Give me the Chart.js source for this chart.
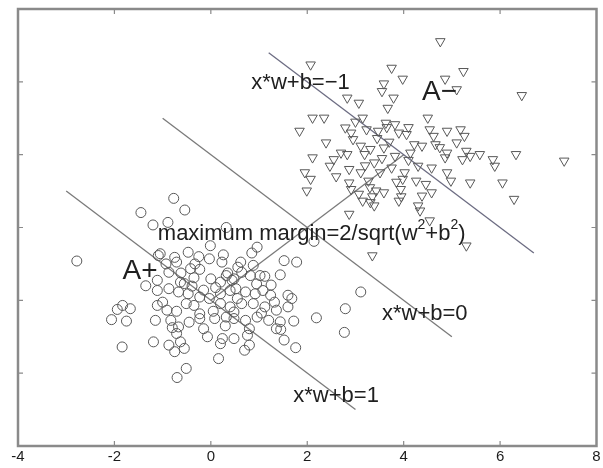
<!DOCTYPE html>
<html lang="en">
<head>
<meta charset="UTF-8">
<style>
  html, body { margin: 0; padding: 0; background: #fff; overflow: hidden; }
  #wrap { width: 603px; height: 468px; }
</style>
<title>SVM margin</title>
</head>
<body>
<div id="wrap"><canvas id="svmChart" width="603" height="468"></canvas></div>
<script src="https://cdn.jsdelivr.net/npm/chart.js"></script>
<script>
// class A+ (circles)
const plusX = [-2.78,-0.77,-1.45,-0.54,-1.20,-0.89,0.32,2.14,-0.01,0.96,-1.09,-0.75,-0.47,0.26,0.23,-0.03,-0.33,-0.23,0.56,0.88,
  1.52,1.78,-0.93,-0.71,-0.87,-0.63,-0.42,0.00,0.32,0.48,0.64,0.82,1.02,1.12,1.44,-1.11,-0.55,-0.39,0.20,0.44,
  0.52,-1.11,-0.87,-0.67,-0.47,-0.23,-0.03,0.20,0.40,0.72,0.92,1.08,1.24,1.60,1.68,3.11,-1.83,-1.67,-1.94,-1.11,
  -0.91,-0.71,-0.51,-0.35,-0.23,0.20,0.40,0.48,0.64,0.88,1.12,1.32,1.36,1.60,2.79,-2.06,-1.75,-1.15,-0.83,-0.67,
  -0.23,0.08,0.32,0.48,0.72,0.96,1.20,1.44,1.72,2.19,-0.71,-0.15,-0.07,0.24,0.48,0.80,0.76,1.36,1.52,2.77,
  -1.19,-0.87,-0.63,0.20,0.80,-1.84,1.76,-0.75,-0.55,0.16,0.70,-0.51,-0.70,
  -1.05,-0.35,0.10,0.55,0.30,-0.45,-1.00,0.95,1.25,-0.15,0.62,0.85,-0.62,-0.80,0.05,0.35,1.05,-1.35,1.45,-0.25];
const plusY = [1.08,2.80,2.41,2.48,2.07,2.14,2.00,1.62,1.50,1.46,1.23,1.18,1.32,1.25,1.05,1.14,1.00,0.85,0.91,0.96,
  1.09,1.05,1.00,1.05,0.77,0.50,0.87,0.59,0.68,0.59,0.77,0.68,0.68,0.66,0.70,0.55,0.46,0.39,0.50,0.55,
  0.32,0.27,0.32,0.23,0.18,0.09,0.05,0.18,0.27,0.23,0.18,0.27,0.14,0.14,0.05,0.23,-0.14,-0.23,-0.25,-0.14,
  -0.27,-0.30,-0.09,-0.14,-0.37,-0.09,-0.18,-0.32,-0.09,-0.09,-0.18,-0.05,-0.27,-0.18,-0.23,-0.53,-0.57,-0.55,-0.55,-0.73,
  -0.50,-0.50,-0.46,-0.50,-0.55,-0.46,-0.55,-0.59,-0.57,-0.48,-0.91,-0.78,-1.00,-1.05,-1.05,-0.78,-0.96,-0.78,-1.09,-0.88,
  -1.14,-1.23,-1.14,-1.19,-1.23,-1.28,-1.30,-1.41,-1.32,-1.60,-1.37,-1.87,-2.12,
  1.28,0.62,0.35,0.05,-0.70,-0.60,-0.05,0.45,0.42,0.28,1.05,1.30,0.75,-0.75,-0.30,0.75,-0.35,0.40,-0.80,1.20];

// class A- (triangles)
const minusX = [4.76,2.07,3.75,5.24,3.98,4.86,3.59,3.55,5.10,6.45,2.83,3.07,3.79,3.67,2.11,2.35,3.15,3.63,3.82,4.50,
  1.84,2.79,2.91,3.23,3.47,3.90,4.06,4.54,4.62,4.90,5.18,5.26,2.39,2.95,3.11,3.31,3.59,4.22,4.38,4.66,
  4.90,5.10,5.30,5.58,6.33,7.33,2.11,2.55,2.83,3.19,3.39,3.82,4.14,4.86,5.22,5.38,5.85,5.89,2.47,2.87,
  3.11,3.51,3.75,4.02,4.30,4.58,4.90,4.98,1.95,2.07,2.87,3.27,3.98,4.26,4.46,5.38,6.05,1.99,2.91,3.07,
  3.43,3.59,3.94,4.38,4.58,3.15,3.31,3.39,3.90,4.30,4.34,6.29,2.87,4.54,3.35,5.30,
  3.45,3.70,3.55,3.20,4.10,3.85,3.35,2.70,4.75,3.00,2.60,4.10,3.65,3.30,3.95];
const minusY = [7.11,6.47,6.38,6.29,6.08,6.08,5.95,5.74,5.79,5.63,5.56,5.42,5.56,5.28,5.01,5.01,5.01,4.87,4.83,5.01,
  4.65,4.74,4.60,4.69,4.65,4.60,4.56,4.69,4.51,4.65,4.69,4.51,4.33,4.42,4.24,4.15,4.19,4.28,4.24,4.28,
  4.05,4.33,4.10,4.01,4.01,3.83,3.92,3.87,4.01,4.01,3.78,3.96,4.05,3.92,3.87,3.96,3.87,3.69,3.69,3.60,
  3.51,3.51,3.64,3.51,3.69,3.64,3.51,3.28,3.51,3.33,3.23,3.28,3.33,3.28,3.19,3.23,3.23,3.01,3.05,2.92,
  3.01,2.96,3.05,2.87,2.96,2.73,2.69,2.60,2.73,2.60,2.46,2.78,2.37,2.19,1.23,1.50,
  4.45,4.35,3.90,3.70,3.85,3.25,2.85,4.05,4.20,4.90,3.40,4.75,4.75,3.10,2.85];

// separating lines: start / end points
const lineNames = ['x*w+b=1', 'x*w+b=0', 'x*w+b=-1', 'margin'];
const lineX1 = [-3, -1, 1.2, 0];
const lineY1 = [3, 5, 6.8, 0];
const lineX2 = [3, 5, 6.7, 4];
const lineY2 = [-3, -1, 1.3, 4];

const xTickValues = [-4, -2, 0, 2, 4, 6, 8];
const yTickValues = [-4, -2, 0, 2, 4, 6, 8];

const FONT = "'Liberation Sans', Arial, Helvetica, sans-serif";
const markColor = '#585858';

const toPoints = (xs, ys) => xs.map((x, i) => ({ x: x, y: ys[i] }));

const lineSets = lineNames.map((name, i) => ({
    label: name,
    data: [{ x: lineX1[i], y: lineY1[i] }, { x: lineX2[i], y: lineY2[i] }],
    showLine: true,
    pointRadius: 0,
    borderColor: i === 2 ? '#6c6c82' : '#7a7a7a',
    borderWidth: 1.3,
    order: 3
}));

// text notes, placed in data coordinates
const notes = [
    { text: 'x*w+b=\u22121', x: 0.84, y: 5.98, size: 22 },
    { text: 'A\u2212', x: 4.38, y: 5.7, size: 28 },
    { text: 'A+', x: -1.83, y: 0.8, size: 28 },
    { text: 'x*w+b=0', x: 3.55, y: -0.37, size: 22 },
    { text: 'x*w+b=1', x: 1.71, y: -2.63, size: 22 }
];

const decorPlugin = {
    id: 'decor',
    afterDatasetsDraw(chart) {
        const c = chart.ctx;
        const xs = chart.scales.x, ys = chart.scales.y;
        const a = chart.chartArea;
        c.save();
        // frame
        c.strokeStyle = '#8a8a8a';
        c.lineWidth = 2.5;
        c.strokeRect(a.left, a.top, a.right - a.left, a.bottom - a.top);
        // inward ticks
        c.lineWidth = 1.2;
        c.beginPath();
        xTickValues.slice(1, -1).forEach(v => {
            const px = xs.getPixelForValue(v);
            c.moveTo(px, a.bottom); c.lineTo(px, a.bottom - 5);
            c.moveTo(px, a.top); c.lineTo(px, a.top + 5);
        });
        yTickValues.slice(1, -1).forEach(v => {
            const py = ys.getPixelForValue(v);
            c.moveTo(a.left, py); c.lineTo(a.left + 5, py);
            c.moveTo(a.right, py); c.lineTo(a.right - 5, py);
        });
        c.stroke();

        // labels
        c.fillStyle = '#202020';
        c.textBaseline = 'middle';
        c.textAlign = 'left';
        notes.forEach(n => {
            c.font = n.size + 'px ' + FONT;
            c.fillText(n.text, xs.getPixelForValue(n.x), ys.getPixelForValue(n.y));
        });

        // maximum margin=2/sqrt(w^2+b^2) with superscripts
        let px = xs.getPixelForValue(-1.1);
        const py = ys.getPixelForValue(1.82);
        const parts = [['maximum margin=2/sqrt(w', false], ['2', true], ['+b', false], ['2', true], [')', false]];
        parts.forEach(([t, sup]) => {
            c.font = (sup ? 14 : 22) + 'px ' + FONT;
            c.fillText(t, px, sup ? py - 9 : py);
            px += c.measureText(t).width;
        });
        c.restore();
    }
};

new Chart(document.getElementById('svmChart'), {
    type: 'scatter',
    data: {
        datasets: [
            {
                label: 'A+',
                data: toPoints(plusX, plusY),
                pointStyle: 'circle',
                pointRadius: 5,
                borderColor: markColor,
                backgroundColor: 'rgba(0,0,0,0)',
                borderWidth: 1,
                order: 1
            },
            {
                label: 'A-',
                data: toPoints(minusX, minusY),
                pointStyle: 'triangle',
                rotation: 180,
                pointRadius: 5.5,
                borderColor: markColor,
                backgroundColor: 'rgba(0,0,0,0)',
                borderWidth: 1,
                order: 2
            },
            ...lineSets
        ]
    },
    plugins: [decorPlugin],
    options: {
        responsive: false,
        animation: false,
        layout: { padding: { left: 18, right: 5, top: 9, bottom: 0 } },
        plugins: {
            legend: { display: false },
            tooltip: { enabled: false }
        },
        scales: {
            x: {
                type: 'linear',
                min: -4,
                max: 8,
                afterBuildTicks: (axis) => { axis.ticks = xTickValues.map(v => ({ value: v })); },
                grid: { display: false, drawTicks: false },
                border: { display: false },
                ticks: {
                    padding: 2,
                    color: '#1c1c1c',
                    font: { family: FONT, size: 15 },
                    maxRotation: 0
                }
            },
            y: {
                type: 'linear',
                min: -4,
                max: 8,
                display: false
            }
        }
    }
});
</script>
</body>
</html>
